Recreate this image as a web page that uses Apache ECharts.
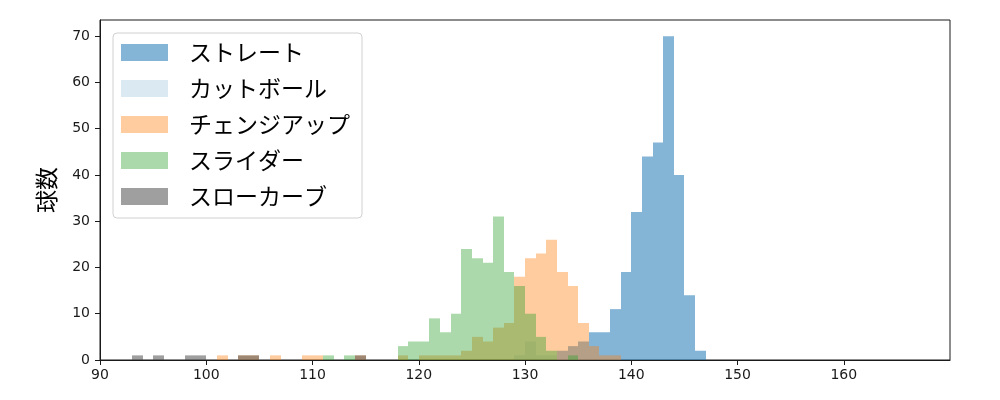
<!DOCTYPE html>
<html>
<head>
<meta charset="utf-8">
<script src="https://cdn.jsdelivr.net/npm/echarts@6/dist/echarts.min.js"></script>
<style>
  html, body {margin: 0; padding: 0; background: #fff;}
  #chart {width: 1000px; height: 400px;}
</style>
</head>
<body>
<div id="chart"></div>
<script>
// 球種ごとのヒストグラム (ビン幅 1km/h, 各ビンの左端と球数)
const seriesNames = ['ストレート', 'カットボール', 'チェンジアップ', 'スライダー', 'スローカーブ']

const straightBins = [133, 134, 135, 136, 137, 138, 139, 140, 141, 142, 143, 144, 145, 146]
const straightCounts = [2, 3, 4, 6, 6, 11, 19, 32, 44, 47, 70, 40, 14, 2]

const cutterBins = [129, 130, 131, 132]
const cutterCounts = [1, 4, 1, 1]

const changeupBins = [101, 103, 104, 106, 109, 110, 114, 118, 120, 121, 122, 123, 124, 125, 126, 127, 128, 129, 130, 131, 132, 133, 134, 135, 136, 137, 138]
const changeupCounts = [1, 1, 1, 1, 1, 1, 1, 1, 1, 1, 1, 1, 2, 5, 4, 7, 8, 18, 22, 23, 26, 19, 16, 8, 3, 1, 1]

const sliderBins = [111, 113, 118, 119, 120, 121, 122, 123, 124, 125, 126, 127, 128, 129, 130, 131, 132, 134]
const sliderCounts = [1, 1, 3, 4, 4, 9, 6, 10, 24, 22, 21, 31, 19, 16, 10, 5, 2, 1]

const slowCurveBins = [93, 95, 98, 99, 103, 104, 114]
const slowCurveCounts = [1, 1, 1, 1, 1, 1, 1]

const xTicks = [90, 100, 110, 120, 130, 140, 150, 160]
const yTicks = [0, 10, 20, 30, 40, 50, 60, 70]

const colors = [
    'rgba(31,119,180,0.55)',
    'rgba(31,119,180,0.16)',
    'rgba(255,127,14,0.4)',
    'rgba(44,160,44,0.4)',
    'rgba(80,80,80,0.55)'
]

const binsList = [straightBins, cutterBins, changeupBins, sliderBins, slowCurveBins]
const countsList = [straightCounts, cutterCounts, changeupCounts, sliderCounts, slowCurveCounts]

function renderBin(params, api) {
    const x0 = api.value(0)
    const start = api.coord([x0, 0])
    const end = api.coord([x0 + 1, api.value(1)])
    // 隣り合うビンの継ぎ目が出ないようにピクセルに揃える
    const left = Math.round(start[0])
    const right = Math.round(end[0])
    return {
        type: 'rect',
        shape: {x: left, y: end[1], width: right - left, height: start[1] - end[1]},
        style: {fill: api.visual('color')}
    }
}

const series = seriesNames.map((name, i) => ({
    name: name,
    type: 'custom',
    renderItem: renderBin,
    itemStyle: {color: colors[i]},
    encode: {x: 0, y: 1},
    data: binsList[i].map((b, j) => [b, countsList[i][j]]),
    silent: true,
    animation: false
}))

const tickFont = 'DejaVu Sans'
const jpFont = 'Noto Sans CJK JP'

const chart = echarts.init(document.getElementById('chart'))
chart.setOption({
    animation: false,
    grid: {left: 100, right: 50, top: 20, bottom: 40, show: true, borderColor: '#1a1a1a', borderWidth: 1},
    legend: {
        orient: 'vertical',
        left: 113,
        top: 33,
        padding: [8, 12, 10, 8],
        itemWidth: 47,
        itemHeight: 17,
        itemGap: 13,
        icon: 'rect',
        borderColor: '#d0d0d0',
        borderWidth: 1,
        borderRadius: 4,
        backgroundColor: '#fff',
        textStyle: {fontSize: 23, fontFamily: jpFont, color: '#000', padding: [0, 0, 0, 16]},
        data: seriesNames
    },
    xAxis: {
        type: 'value',
        min: 90,
        max: 170,
        interval: 10,
        axisLine: {show: true, lineStyle: {color: '#1a1a1a', width: 1}},
        axisTick: {show: true, length: 5, customValues: xTicks, lineStyle: {color: '#1a1a1a'}},
        axisLabel: {customValues: xTicks, fontSize: 14, fontFamily: tickFont, color: '#1a1a1a', margin: 8},
        splitLine: {show: false}
    },
    yAxis: {
        type: 'value',
        min: 0,
        max: 73.5,
        interval: 10,
        name: '球数',
        nameLocation: 'middle',
        nameRotate: 90,
        nameGap: 42,
        nameTextStyle: {fontSize: 23, fontFamily: jpFont, color: '#000'},
        axisLine: {show: true, lineStyle: {color: '#1a1a1a', width: 1}},
        axisTick: {show: true, length: 5, customValues: yTicks, lineStyle: {color: '#1a1a1a'}},
        axisLabel: {customValues: yTicks, fontSize: 14, fontFamily: tickFont, color: '#1a1a1a', margin: 10},
        splitLine: {show: false}
    },
    series: series
})
</script>
</body>
</html>
